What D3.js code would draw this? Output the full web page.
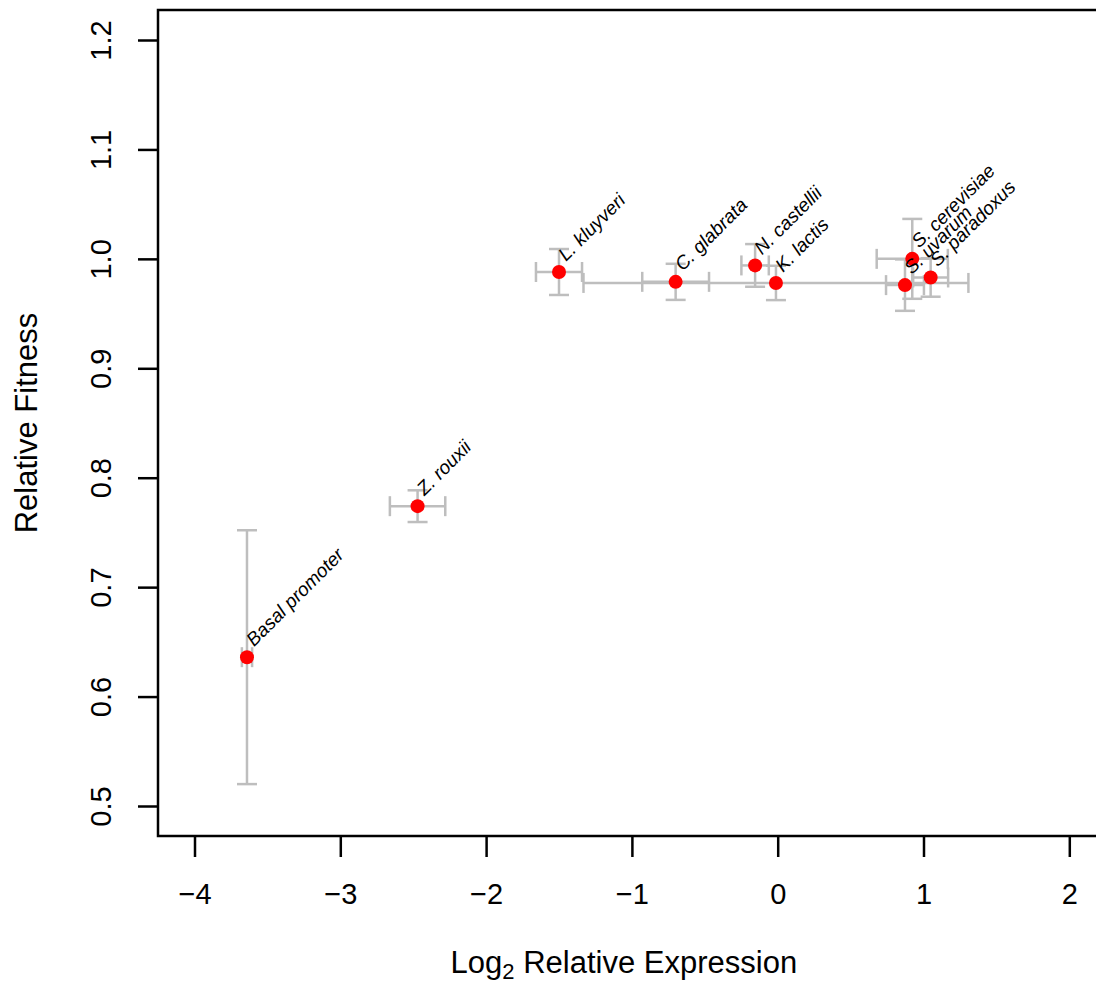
<!DOCTYPE html>
<html>
<head>
<meta charset="utf-8">
<script src="https://cdn.jsdelivr.net/npm/d3@7"></script>
<style>
  html, body { margin: 0; padding: 0; background: #fff; }
  svg { display: block; }
  text { font-family: "Liberation Sans", Arial, Helvetica, sans-serif; }
</style>
</head>
<body>
<svg id="chart" width="1096" height="985"></svg>
<script>
// ---- data ----
const species = ["Basal promoter", "Z. rouxii", "L. kluyveri", "C. glabrata", "N. castellii",
                 "K. lactis", "S. cerevisiae", "S. uvarum", "S. paradoxus"];
const log2Expression = [-3.64, -2.47, -1.50, -0.70, -0.155, -0.012, 0.923, 0.873, 1.049];
const expressionErr  = [0.035, 0.19, 0.158, 0.229, 0.094, 1.32, 0.244, 0.13, 0.12];
const relFitness     = [0.636, 0.774, 0.988, 0.979, 0.994, 0.978, 1.000, 0.976, 0.983];
const fitnessErr     = [0.116, 0.0145, 0.021, 0.0165, 0.0195, 0.0157, 0.0365, 0.0235, 0.0176];
const xTicks = [-4, -3, -2, -1, 0, 1, 2];
const yTicks = [0.5, 0.6, 0.7, 0.8, 0.9, 1.0, 1.1, 1.2];

const data = species.map((s, i) => ({
  name: s, x: log2Expression[i], xe: expressionErr[i], y: relFitness[i], ye: fitnessErr[i]
}));

// ---- layout ----
const svg = d3.select("#chart");
const x = d3.scaleLinear().domain([-4, 2]).range([194.5, 1069.3]);
const y = d3.scaleLinear().domain([0.5, 1.2]).range([806, 40]);
const box = { left: 158, top: 10, bottom: 836, right: 1110 };
const capW = 10;
const errColor = "#bebebe";

// error bars
const eb = svg.append("g").attr("stroke", errColor).attr("stroke-width", 2.5).attr("fill", "none");
data.forEach(d => {
  const cx = x(d.x), cy = y(d.y);
  // vertical
  eb.append("line").attr("x1", cx).attr("x2", cx).attr("y1", y(d.y - d.ye)).attr("y2", y(d.y + d.ye));
  eb.append("line").attr("x1", cx - capW).attr("x2", cx + capW).attr("y1", y(d.y - d.ye)).attr("y2", y(d.y - d.ye));
  eb.append("line").attr("x1", cx - capW).attr("x2", cx + capW).attr("y1", y(d.y + d.ye)).attr("y2", y(d.y + d.ye));
  // horizontal
  eb.append("line").attr("x1", x(d.x - d.xe)).attr("x2", x(d.x + d.xe)).attr("y1", cy).attr("y2", cy);
  eb.append("line").attr("x1", x(d.x - d.xe)).attr("x2", x(d.x - d.xe)).attr("y1", cy - capW).attr("y2", cy + capW);
  eb.append("line").attr("x1", x(d.x + d.xe)).attr("x2", x(d.x + d.xe)).attr("y1", cy - capW).attr("y2", cy + capW);
});

// points
svg.append("g").selectAll("circle").data(data).join("circle")
  .attr("cx", d => x(d.x)).attr("cy", d => y(d.y)).attr("r", 7)
  .attr("fill", "#ff0000");

// labels
svg.append("g").selectAll("text").data(data).join("text")
  .attr("transform", d => `translate(${x(d.x) + 7},${y(d.y) - 10}) rotate(-45)`)
  .attr("font-size", 19).attr("font-style", "italic").attr("fill", "#000")
  .text(d => d.name);

// box
svg.append("rect")
  .attr("x", box.left).attr("y", box.top)
  .attr("width", box.right - box.left).attr("height", box.bottom - box.top)
  .attr("fill", "none").attr("stroke", "#000").attr("stroke-width", 2.5);

// x axis
const xAxis = svg.append("g").attr("transform", `translate(0,${box.bottom})`)
  .call(d3.axisBottom(x).tickValues(xTicks).tickSize(21).tickPadding(26)
        .tickFormat(d3.format("d")));
xAxis.select(".domain").remove();
xAxis.selectAll(".tick line").attr("stroke", "#000").attr("stroke-width", 2.5);
xAxis.selectAll(".tick text").attr("font-size", 29).attr("fill", "#000")
  .attr("font-family", "Liberation Sans, Arial, sans-serif");

// y axis
const yAxis = svg.append("g").attr("transform", `translate(${box.left},0)`)
  .call(d3.axisLeft(y).tickValues(yTicks).tickSize(20).tickFormat(d3.format(".1f")));
yAxis.select(".domain").remove();
yAxis.selectAll(".tick line").attr("stroke", "#000").attr("stroke-width", 2.5);
yAxis.selectAll(".tick text")
  .attr("font-size", 29).attr("fill", "#000")
  .attr("font-family", "Liberation Sans, Arial, sans-serif")
  .attr("x", null).attr("dy", null)
  .attr("text-anchor", "middle")
  .attr("transform", "translate(-57,0) rotate(-90)")
  .attr("dominant-baseline", "central");

// axis titles
const xt = svg.append("text").attr("x", (x(-4) + x(2)) / 2 - 8).attr("y", 973)
  .attr("text-anchor", "middle").attr("font-size", 31).attr("fill", "#000");
xt.append("tspan").text("Log");
xt.append("tspan").attr("font-size", 22).attr("dy", 6).text("2");
xt.append("tspan").attr("dy", -6).text(" Relative Expression");

svg.append("text")
  .attr("transform", `translate(37,${(y(0.5) + y(1.2)) / 2}) rotate(-90)`)
  .attr("text-anchor", "middle").attr("font-size", 31).attr("fill", "#000")
  .text("Relative Fitness");
</script>
</body>
</html>
